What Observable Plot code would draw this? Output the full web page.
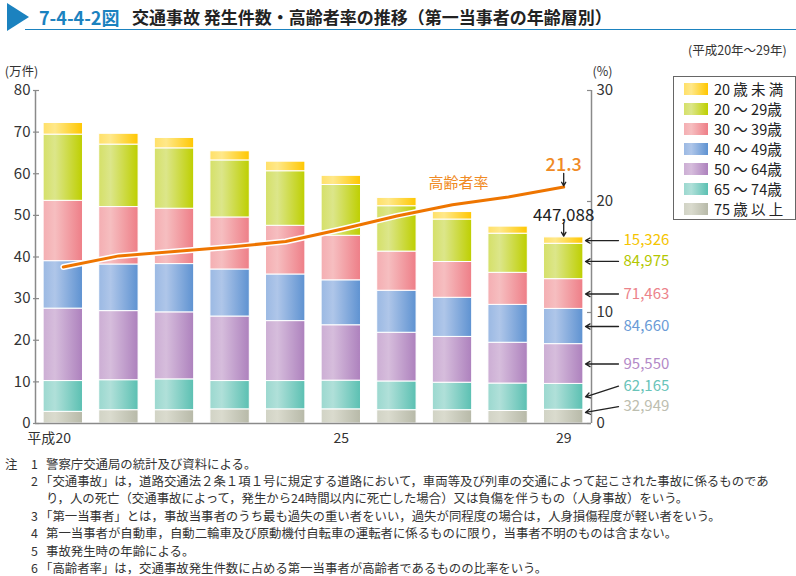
<!DOCTYPE html>
<html><head><meta charset="utf-8">
<script src="https://cdn.jsdelivr.net/npm/d3@7"></script>
<script src="https://cdn.jsdelivr.net/npm/@observablehq/plot@0.6"></script>
<style>
body{margin:0;background:#fff;}
#wrap{position:relative;width:796px;height:576px;overflow:hidden;font-family:"Noto Sans CJK JP","Noto Sans",sans-serif;color:#222;}
.abs{position:absolute;white-space:nowrap;}
#chart{position:absolute;left:0;top:0;}
</style></head><body><div id="wrap"><div id="chart"></div></div>
<script>
// ---- data (万件) ----
const years = [20,21,22,23,24,25,26,27,28,29];
const tickYears = [20,25,29];
const categories = ["20 歳 未 満","20 ～ 29歳","30 ～ 39歳","40 ～ 49歳","50 ～ 64歳","65 ～ 74歳","75 歳 以 上"];
const under20 = [2.8, 2.6, 2.5, 2.2, 2.3, 2.2, 2.0, 1.8, 1.7, 1.5326];
const age20s  = [15.9, 15.0, 14.5, 13.7, 13.1, 12.2, 10.9, 10.2, 9.4, 8.4975];
const age30s  = [14.5, 13.8, 13.3, 12.5, 11.7, 10.7, 9.4, 8.6, 7.7, 7.1463];
const age40s  = [11.4, 11.2, 11.6, 11.3, 11.2, 10.8, 10.1, 9.4, 9.1, 8.4660];
const age50_64 = [17.4, 16.6, 16.1, 15.5, 14.4, 13.3, 11.7, 11.0, 9.8, 9.5550];
const age65_74 = [7.4, 7.2, 7.4, 6.8, 6.8, 6.9, 6.9, 6.6, 6.6, 6.2165];
const age75up  = [2.8, 3.2, 3.2, 3.4, 3.4, 3.4, 3.2, 3.2, 3.0, 3.2949];
const elderlyRate = [14.1, 15.1, 15.5, 15.9, 16.4, 17.5, 18.7, 19.7, 20.4, 21.3]; // %
const lastTotalLabel = "447,088";
const lastRateLabel = "21.3";
const lastSegLabels = ["15,326","84,975","71,463","84,660","95,550","62,165","32,949"];
const countTicks = [0,10,20,30,40,50,60,70,80];
const rateTicks = [0,10,20,30];

// ---- styles ----
const light = ["#FFE88A","#DCE68A","#F6BEC0","#AFC6E9","#D6BDDC","#B0E0D9","#DADBCE"];
const dark  = ["#FFC700","#BECF00","#EE7E87","#5E92D1","#AD81BD","#5BC0B2","#B7B9A8"];
const labelColors = ["#F5C400","#B3C700","#EC838B","#6A9BD6","#B389C7","#69C4B9","#BDBEB0"];
const labelShift = [0,0,0,0,0,2.55,2.4];   // label offset (y units) for crowded labels
const tipShift   = [0,0,0,0,0,0,1.0];

const series = [under20, age20s, age30s, age40s, age50_64, age65_74, age75up];
const cum = years.map(() => 0);
const stacks = [];
for (let i = series.length - 1; i >= 0; i--) {
  stacks[i] = years.map((yr, j) => { const y1 = cum[j]; cum[j] += series[i][j]; return {year: yr, y1, y2: cum[j]}; });
}
const lastIdx = years.length - 1;
const lastYear = years[lastIdx];
const lastTotal = cum[lastIdx];

const W = 796, H = 576, mL = 35, mR = 205, mT = 90, mB = 153;
const pxX = (W - mL - mR) / 10, pxY = (H - mT - mB) / 80;
const xa = 19.5, xb = 29.5, halfW = 0.354, tk = 4 / pxX;
const K = 80 / 30;
const rateRows = years.map((yr, i) => ({year: yr, r: elderlyRate[i] * K}));
const AX = "#8a8a8a";

const segRows = series.map((s, i) => {
  const st = stacks[i][lastIdx];
  const mid = (st.y1 + st.y2) / 2;
  return {i, label: lastSegLabels[i], mid, ly: mid + labelShift[i], tip: mid + tipShift[i]};
});

const marks = [];
for (let i = series.length - 1; i >= 0; i--) {
  marks.push(Plot.rectY(stacks[i], {x1: d => d.year - halfW, x2: d => d.year + halfW, y1: "y1", y2: "y2",
    fill: () => `url(#g${i})`, stroke: "white", strokeWidth: 1}));
}
marks.push(
  Plot.ruleX([xa, xb], {y1: 0, y2: 80, stroke: AX, strokeWidth: 1.5}),
  Plot.ruleY([0], {x1: xa, x2: xb, stroke: AX, strokeWidth: 1.5}),
  Plot.ruleY(countTicks, {y: d => d, x1: xa - 0.5 * tk, x2: xa + tk, stroke: AX, strokeWidth: 1.2}),
  Plot.ruleY(rateTicks, {y: d => d * K, x1: xb - tk, x2: xb, stroke: AX, strokeWidth: 1.2}),
  Plot.text(countTicks, {x: xa, y: d => d, text: d => String(d), textAnchor: "end", dx: -5, fontSize: 15, fill: "#333"}),
  Plot.text(rateTicks, {x: xb, y: d => d * K, text: d => String(d), textAnchor: "start", dx: 5, fontSize: 15, fill: "#333"}),
  Plot.text(["(万件)"], {x: xa, y: 80, text: d => d, dx: -14, dy: -19, fontSize: 12.5, fill: "#333"}),
  Plot.text(["(%)"], {x: xb, y: 80, text: d => d, dx: 11, dy: -19, fontSize: 12.5, fill: "#333"}),
  Plot.text(tickYears, {x: d => d, y: 0, text: d => String(d), dy: 15, fontSize: 14, fill: "#333"}),
  Plot.text(["平成"], {x: tickYears[0], y: 0, text: d => d, dy: 15, dx: -8, textAnchor: "end", fontSize: 14, fill: "#333"}),
  Plot.line(rateRows, {x: "year", y: "r", stroke: "white", strokeWidth: 6, strokeLinejoin: "round", strokeLinecap: "round"}),
  Plot.line(rateRows, {x: "year", y: "r", stroke: "#EE7500", strokeWidth: 3, strokeLinejoin: "round", strokeLinecap: "round"}),
  Plot.text(["高齢者率"], {x: 27.11, y: 57.7, text: d => d, fontSize: 15, fill: "#F08A24"}),
  Plot.text([lastRateLabel], {x: lastYear, y: elderlyRate[lastIdx] * K, text: d => d, dy: -22, fontSize: 18, fill: "#F08A24", fontWeight: 500}),
  Plot.arrow([0], {x1: lastYear, x2: lastYear, y1: elderlyRate[lastIdx] * K + 3.3, y2: elderlyRate[lastIdx] * K + 0.3, stroke: "#222", strokeWidth: 1.3, headLength: 6}),
  Plot.text([lastTotalLabel], {x: lastYear, y: lastTotal, text: d => d, dy: -22, fontSize: 17, fill: "#222"}),
  Plot.arrow([0], {x1: lastYear, x2: lastYear, y1: lastTotal + 3.5, y2: lastTotal + 0.3, stroke: "#222", strokeWidth: 1.3, headLength: 6}),
  Plot.arrow(segRows, {x1: xb + 27 / pxX, y1: "ly", x2: xb - 6 / pxX, y2: "tip", stroke: "#222", strokeWidth: 1.3, headLength: 6}),
  Plot.text(segRows, {x: xb, y: "ly", text: "label", dx: 32, textAnchor: "start", fontSize: 15, fill: d => labelColors[d.i]})
);

const svg = Plot.plot({
  width: W, height: H, marginLeft: mL, marginRight: mR, marginTop: mT, marginBottom: mB,
  x: {domain: [xa, xb], axis: null},
  y: {domain: [0, 80], axis: null},
  color: {type: "identity"},
  style: {fontFamily: '"Noto Sans CJK JP", sans-serif', fontSize: "14px", background: "transparent", overflow: "visible"},
  marks
});
const defs = d3.select(svg).insert("defs", ":first-child");
light.forEach((c, i) => {
  const g = defs.append("linearGradient").attr("id", `g${i}`).attr("x1", 0).attr("x2", 1).attr("y1", 0).attr("y2", 0);
  g.append("stop").attr("offset", 0).attr("stop-color", d3.interpolateRgb(light[i], dark[i])(0.25));
  g.append("stop").attr("offset", 0.3).attr("stop-color", light[i]);
  g.append("stop").attr("offset", 1).attr("stop-color", dark[i]);
});
document.getElementById("chart").appendChild(svg);

// ---- title, legend, notes ----
const wrap = document.getElementById("wrap");
function add(html, style, parent) { const d = document.createElement("div"); d.className = "abs"; d.style.cssText = style; d.innerHTML = html; (parent || wrap).appendChild(d); return d; }
add("", "left:7px;top:3px;width:0;height:0;border-left:22px solid #1b82bf;border-top:14px solid transparent;border-bottom:14px solid transparent;");
add("", "left:25px;top:28.5px;width:771px;height:1.6px;background:#1b82bf;");
add("7-4-4-2図", "left:39px;top:6px;font-size:18px;line-height:22px;font-weight:700;color:#1b82bf;");
add("交通事故 発生件数・高齢者率の推移（第一当事者の年齢層別）", "left:132px;top:6px;font-size:17px;line-height:22px;font-weight:700;color:#222;");
add("(平成20年～29年)", "left:688px;top:42px;font-size:12.5px;line-height:16px;color:#333;");

const leg = add("", "left:673px;top:76px;width:121px;height:142px;border:1px solid #666;background:#fff;");
categories.forEach((c, i) => {
  const cy = 12.3 + i * 19.9;
  add("", `left:10px;top:${cy - 6}px;width:24px;height:12px;background:linear-gradient(to right, ${d3.interpolateRgb(light[i], dark[i])(0.25)} 0%, ${light[i]} 30%, ${dark[i]} 100%);`, leg);
  add(c, `left:40px;top:${cy - 9}px;font-size:14.5px;line-height:18px;color:#222;`, leg);
});

const notes = [
  ["注", "1", "警察庁交通局の統計及び資料による。"],
  ["", "2", "「交通事故」は，道路交通法２条１項１号に規定する道路において，車両等及び列車の交通によって起こされた事故に係るものであ"],
  ["", "", "り，人の死亡（交通事故によって，発生から24時間以内に死亡した場合）又は負傷を伴うもの（人身事故）をいう。"],
  ["", "3", "「第一当事者」とは，事故当事者のうち最も過失の重い者をいい，過失が同程度の場合は，人身損傷程度が軽い者をいう。"],
  ["", "4", "第一当事者が自動車，自動二輪車及び原動機付自転車の運転者に係るものに限り，当事者不明のものは含まない。"],
  ["", "5", "事故発生時の年齢による。"],
  ["", "6", "「高齢者率」は，交通事故発生件数に占める第一当事者が高齢者であるものの比率をいう。"]
];
notes.forEach((n, i) => {
  const cy = 463.5 + i * 17.4;
  const st = `top:${cy - 8}px;font-size:12.4px;line-height:16px;color:#333;`;
  if (n[0]) add(n[0], "left:5px;" + st);
  if (n[1]) add(n[1], "left:31px;" + st);
  const isBracket = n[2].startsWith("「");
  add(n[2], `left:${isBracket ? 40 : 46}px;` + st);
});
</script></body></html>
